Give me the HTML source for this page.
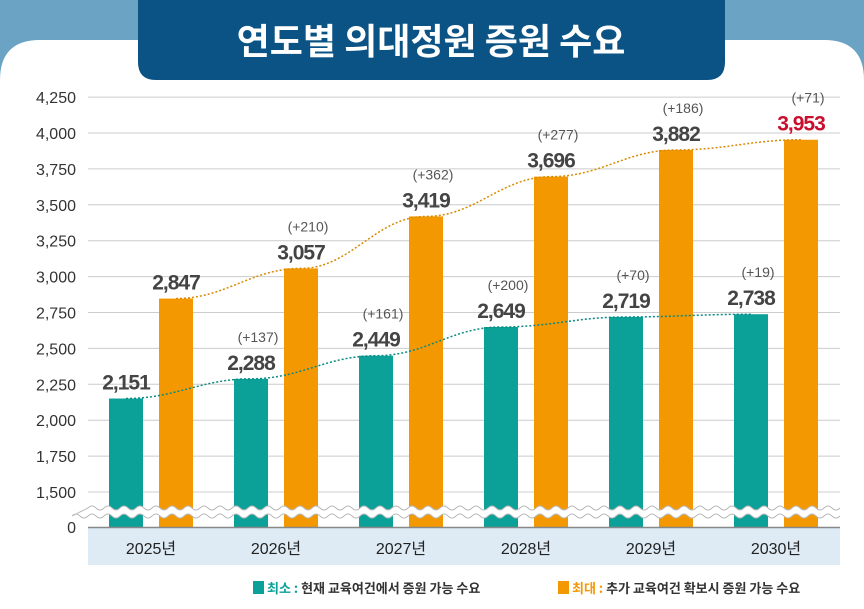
<!DOCTYPE html>
<html><head><meta charset="utf-8"><style>
body{margin:0;width:864px;height:609px;overflow:hidden;background:#6aa3c4;font-family:"Liberation Sans","Noto Sans CJK KR",sans-serif;}
svg{display:block}
</style></head><body>
<svg width="864" height="609" xmlns="http://www.w3.org/2000/svg">
<path d="M0,609 L0,80 Q0,40 40,40 L824,40 Q864,40 864,80 L864,609 Z" fill="#fff"/>
<path d="M138,0 L725,0 L725,62 Q725,80 707,80 L156,80 Q138,80 138,62 Z" fill="#0b5384"/>
<text x="431" y="54" text-anchor="middle" fill="#fff" font-size="36" font-weight="bold" font-family="'Noto Sans CJK KR',sans-serif">연도별 의대정원 증원 수요</text>
<g id="grid"></g>
<rect x="88" y="528" width="752" height="37" fill="#deebf5"/>
<g id="bars"></g>
<g id="legend" font-size="13" font-weight="bold" font-family="'Noto Sans CJK KR',sans-serif">
<rect x="253" y="581" width="11" height="13" fill="#0ca198"/>
<text x="267" y="593"><tspan fill="#0ca198">최소 : </tspan><tspan fill="#333">현재 교육여건에서 증원 가능 수요</tspan></text>
<rect x="558" y="581" width="11" height="13" fill="#f39800"/>
<text x="572" y="593"><tspan fill="#f39800">최대 : </tspan><tspan fill="#333">추가 교육여건 확보시 증원 가능 수요</tspan></text>
</g>
</svg>
<script>
const years=["2025년","2026년","2027년","2028년","2029년","2030년"];
const minVals=[2151,2288,2449,2649,2719,2738];
const maxVals=[2847,3057,3419,3696,3882,3953];
const minInc=["","(+137)","(+161)","(+200)","(+70)","(+19)"];
const maxInc=["","(+210)","(+362)","(+277)","(+186)","(+71)"];
const ticks=[1500,1750,2000,2250,2500,2750,3000,3250,3500,3750,4000,4250];
const NS="http://www.w3.org/2000/svg";
function yScale(v){return 492-(v-1500)/250*35.9;}
function gx(i){return 109+125*i;}
function mk(tag,attrs,parent,txt){const e=document.createElementNS(NS,tag);for(const k in attrs)e.setAttribute(k,attrs[k]);if(txt!==undefined)e.textContent=txt;parent.appendChild(e);return e;}
const grid=document.getElementById('grid'),bars=document.getElementById('bars');
ticks.forEach(t=>{
 const l=mk('line',{x1:88,x2:840,y1:yScale(t),y2:yScale(t),stroke:'#ccc','stroke-width':1},grid);
 
 
 const tx=mk('text',{x:76,y:yScale(t)+6,'text-anchor':'end','font-size':16,fill:'#333'},grid,t.toLocaleString('en-US'));
 
 
});
const zeroLbl=mk('text',{x:76,y:533,'text-anchor':'end','font-size':16,fill:'#333'},grid,'0');


years.forEach((yr,i)=>{
 const b1=mk('rect',{x:gx(i),y:yScale(minVals[i]),width:34,height:527-yScale(minVals[i]),fill:'#0ca198'},bars);
 
 
 const b2=mk('rect',{x:gx(i)+50,y:yScale(maxVals[i]),width:34,height:527-yScale(maxVals[i]),fill:'#f39800'},bars);
 
 
 const lx=mk('text',{x:gx(i)+42,y:554,'text-anchor':'middle','font-size':16,fill:'#222'},bars,yr);
 
 
 const v1=mk('text',{x:gx(i)+17,y:yScale(minVals[i])-9,'text-anchor':'middle','font-size':21,'font-weight':'bold',fill:'#444','letter-spacing':'-1'},bars,minVals[i].toLocaleString('en-US'));
 
 
 const v2=mk('text',{x:gx(i)+67,y:yScale(maxVals[i])-9,'text-anchor':'middle','font-size':21,'font-weight':'bold',fill:i==5?'#c8102e':'#444','letter-spacing':'-1'},bars,maxVals[i].toLocaleString('en-US'));
 
 
 if(minInc[i]){const a=mk('text',{x:gx(i)+24,y:yScale(minVals[i])-37,'text-anchor':'middle','font-size':14,fill:'#555'},bars,minInc[i]);
 
 }
 if(maxInc[i]){const a=mk('text',{x:gx(i)+74,y:yScale(maxVals[i])-37,'text-anchor':'middle','font-size':14,fill:'#555'},bars,maxInc[i]);
 
 }
});
function curve(vals,off,col,name){
 let d='';vals.forEach((v,i)=>{const px=gx(i)+off,py=yScale(v);if(i==0)d='M'+px+','+py;else{const qx=gx(i-1)+off,qy=yScale(vals[i-1]);d+=' C'+(qx+50)+','+qy+' '+(px-50)+','+py+' '+px+','+py;}});
 const p=mk('path',{d:d,fill:'none',stroke:col,'stroke-width':1.5,'stroke-dasharray':'2,2'},bars);
 
 
}
curve(minVals,17,'#0a8a82','trend-min');
curve(maxVals,67,'#d98a00','trend-max');
const br=mk('path',{d:'',fill:'#fff',stroke:'#bbb','stroke-width':1},bars);
let wavePath='M88,508';
for(let x=88;x<=840;x+=16){wavePath+=' Q'+(x+4)+',504 '+(x+8)+',508 Q'+(x+12)+',512 '+(x+16)+',508';}
wavePath+=' L856,516';
for(let x=856;x>=88;x-=16){wavePath+=' Q'+(x-4)+',520 '+(x-8)+',516 Q'+(x-12)+',512 '+(x-16)+',516';}
br.setAttribute('d',wavePath+' Z');


const maskR=mk('rect',{x:840,y:500,width:24,height:24,fill:'#fff'},bars);


const ax=mk('line',{x1:88,x2:840,y1:527.5,y2:527.5,stroke:'#888','stroke-width':1.5},bars);


</script>
</body></html>
